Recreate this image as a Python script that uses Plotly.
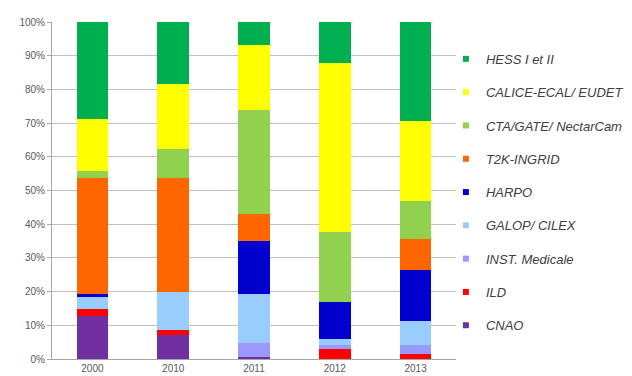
import plotly.graph_objects as go

# Categories (years) on the x axis
years = ["2000", "2010", "2011", "2012", "2013"]

# Share of each project per year (%), stacked bottom to top
cnao = [12.7, 7.1, 0.7, 0.0, 0.0]
ild = [2.0, 1.6, 0.0, 3.0, 1.6]
inst_medicale = [0.0, 0.0, 4.0, 1.2, 2.6]
galop_cilex = [3.8, 11.1, 14.6, 1.8, 7.2]
harpo = [0.9, 0.0, 15.7, 11.0, 15.1]
t2k_ingrid = [34.4, 34.0, 7.9, 0.0, 9.0]
cta_gate = [2.0, 8.5, 31.1, 20.6, 11.4]
calice = [15.3, 19.4, 19.3, 50.3, 23.8]
hess = [28.9, 18.3, 6.7, 12.1, 29.3]

series = [
    ("CNAO", cnao, "#7030A0"),
    ("ILD", ild, "#FF0000"),
    ("INST. Medicale", inst_medicale, "#9999FF"),
    ("GALOP/ CILEX", galop_cilex, "#99CCFF"),
    ("HARPO", harpo, "#0000CC"),
    ("T2K-INGRID", t2k_ingrid, "#FF6600"),
    ("CTA/GATE/ NectarCam", cta_gate, "#92D050"),
    ("CALICE-ECAL/ EUDET", calice, "#FFFF00"),
    ("HESS I et II", hess, "#00B050"),
]

y_ticks = list(range(0, 101, 10))
y_tick_labels = [f"{v}%" for v in y_ticks]

fig = go.Figure()
n = len(series)
for i, (name, vals, color) in enumerate(series):
    fig.add_trace(go.Bar(
        x=years, y=vals, name=name, marker=dict(color=color, line=dict(width=0)),
        showlegend=False,
    ))
    # small square key for the legend, top series listed first
    fig.add_trace(go.Scatter(
        x=[None], y=[None], mode="markers", name=name, legendgroup=name,
        legendrank=n - i, marker=dict(symbol="square", size=6, color=color),
    ))

fig.update_layout(
    width=632, height=376,
    barmode="stack", barnorm="percent", bargap=0.61,
    paper_bgcolor="white", plot_bgcolor="white",
    margin=dict(l=52, r=176, t=22, b=17, autoexpand=False),
    font=dict(family="Liberation Sans, Arial, sans-serif", size=11, color="#595959"),
    legend=dict(
        x=0.975, xanchor="left", y=0.935, yanchor="top",
        traceorder="grouped", tracegroupgap=13.4,
        font=dict(size=13, color="#404040", style="italic"),
        itemwidth=30, bgcolor="rgba(0,0,0,0)",
    ),
)
fig.update_xaxes(
    type="category", showgrid=False, showline=True, linecolor="#A6A6A6", linewidth=1,
    ticks="", tickfont=dict(size=10, color="#595959"),
)
fig.update_yaxes(
    range=[0, 100], tickvals=y_ticks, ticktext=y_tick_labels,
    showgrid=True, gridcolor="#BFBFBF", gridwidth=1,
    showline=True, linecolor="#A6A6A6", linewidth=1,
    ticks="outside", ticklen=4, tickcolor="#A6A6A6",
    tickfont=dict(size=10, color="#595959"), zeroline=False,
)

fig.write_html("out.html")
